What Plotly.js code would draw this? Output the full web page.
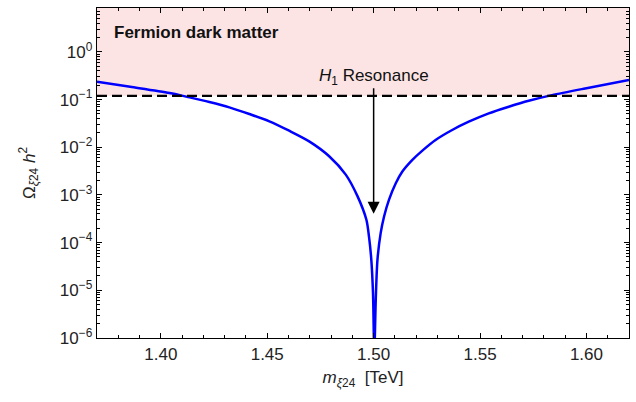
<!DOCTYPE html>
<html>
<head>
<meta charset="utf-8">
<script src="https://cdn.plot.ly/plotly-3.0.1.min.js"></script>
<style>html,body{margin:0;padding:0;background:#fff;}#chart{width:636px;height:402px;}</style>
</head>
<body>
<div id="chart"></div>
<script>
// Dark matter relic abundance vs fermion mass
const massTeV = [1.3700, 1.3856, 1.4041, 1.4135, 1.4228, 1.4322, 1.4416, 1.4510, 1.4603, 1.4697, 1.4791, 1.4869, 1.4924, 1.4966, 1.4978, 1.4989, 1.4997, 1.5003,
                 1.5010, 1.5018, 1.5033, 1.5049, 1.5072, 1.5104, 1.5135, 1.5182, 1.5229, 1.5291, 1.5369, 1.5447, 1.5541, 1.5635, 1.5729, 1.5838, 1.5994, 1.6200];
const omegaH2 = [0.236, 0.185, 0.137, 0.111, 0.0888, 0.0687, 0.0498, 0.0350, 0.0222, 0.0133, 0.00649, 0.00267, 0.000944, 0.000301, 0.000135, 0.0000439, 0.0000088, 0.0000005,
                 0.0000064, 0.0000439, 0.000158, 0.000354, 0.000788, 0.00176, 0.00309, 0.00542, 0.00849, 0.0142, 0.0230, 0.0343, 0.0514, 0.0708, 0.0944, 0.124, 0.171, 0.256];
const planckOmega = 0.12;
const xRange = [1.37, 1.62];
const yRangeLog = [-6, 0.92];
const yTickVals = [1e-6, 1e-5, 1e-4, 1e-3, 1e-2, 1e-1, 1];
const yTickText = ["10<sup>−6</sup>", "10<sup>−5</sup>", "10<sup>−4</sup>", "10<sup>−3</sup>", "10<sup>−2</sup>", "10<sup>−1</sup>", "10<sup>0</sup>"];
const xTickVals = [1.40, 1.45, 1.50, 1.55, 1.60];
const xTickText = ["1.40", "1.45", "1.50", "1.55", "1.60"];
const resonanceMass = 1.50;

const FONT = "Liberation Sans, Arial, Helvetica, sans-serif";

const traces = [
  { // excluded region (overabundance)
    x: [xRange[0], xRange[1], xRange[1], xRange[0]],
    y: [planckOmega, planckOmega, 100, 100],
    fill: "toself", fillcolor: "rgb(253,228,228)",
    mode: "lines", line: {width: 0}, hoverinfo: "skip", showlegend: false
  },
  {
    x: massTeV, y: omegaH2, mode: "lines",
    line: {color: "rgb(0,0,255)", width: 2.5, shape: "spline", smoothing: 0.8},
    showlegend: false
  },
  {
    x: xRange, y: [planckOmega, planckOmega], mode: "lines",
    line: {color: "black", width: 2.2, dash: "10px,5px"},
    showlegend: false
  }
];

const axisCommon = {
  showline: true, linecolor: "black", linewidth: 1.3, mirror: "allticks",
  ticks: "inside", ticklen: 5, tickwidth: 1, tickcolor: "black",
  showgrid: false, zeroline: false,
  tickfont: {family: FONT, size: 17, color: "#222"}
};

const layout = {
  width: 636, height: 402,
  margin: {l: 97, r: 7, t: 8, b: 64},
  paper_bgcolor: "white", plot_bgcolor: "white",
  font: {family: FONT, color: "#111"},
  xaxis: Object.assign({}, axisCommon, {
    range: xRange, tickmode: "array", tickvals: xTickVals, ticktext: xTickText,
    minor: {dtick: 0.01, ticks: "inside", ticklen: 3, tickcolor: "black", tickwidth: 1, showgrid: false},
    title: {text: "<i>m</i><sub><i>ξ</i>24</sub>  [TeV]", font: {family: FONT, size: 17, color: "#222"}, standoff: 8}
  }),
  yaxis: Object.assign({}, axisCommon, {
    type: "log", range: yRangeLog, tickmode: "array", tickvals: yTickVals, ticktext: yTickText,
    minor: {dtick: "D1", ticks: "inside", ticklen: 3, tickcolor: "black", tickwidth: 1, showgrid: false},
    title: {text: "Ω<sub><i>ξ</i>24</sub> <i>h</i><sup>2</sup>", font: {family: FONT, size: 17, color: "#222"}, standoff: 20}
  }),
  annotations: [
    {
      xref: "paper", yref: "paper", x: 0.028, y: 0.925, xanchor: "left", yanchor: "middle",
      text: "<b>Fermion dark matter</b>", showarrow: false,
      font: {family: FONT, size: 17, color: "#111"}
    },
    {
      xref: "x", yref: "y", x: resonanceMass, y: Math.log10(0.16), xanchor: "center", yanchor: "bottom",
      text: "<i>H</i><sub>1</sub> Resonance", showarrow: false,
      font: {family: FONT, size: 17, color: "#111"}
    },
    {
      xref: "x", yref: "y", axref: "x", ayref: "y",
      x: resonanceMass, y: -3.395, ax: resonanceMass, ay: -0.73,
      text: "", showarrow: true, arrowhead: 2, arrowsize: 1.6, arrowwidth: 1.5, arrowcolor: "black"
    }
  ]
};

Plotly.newPlot("chart", traces, layout, {displayModeBar: false, staticPlot: true});
</script>
</body>
</html>
